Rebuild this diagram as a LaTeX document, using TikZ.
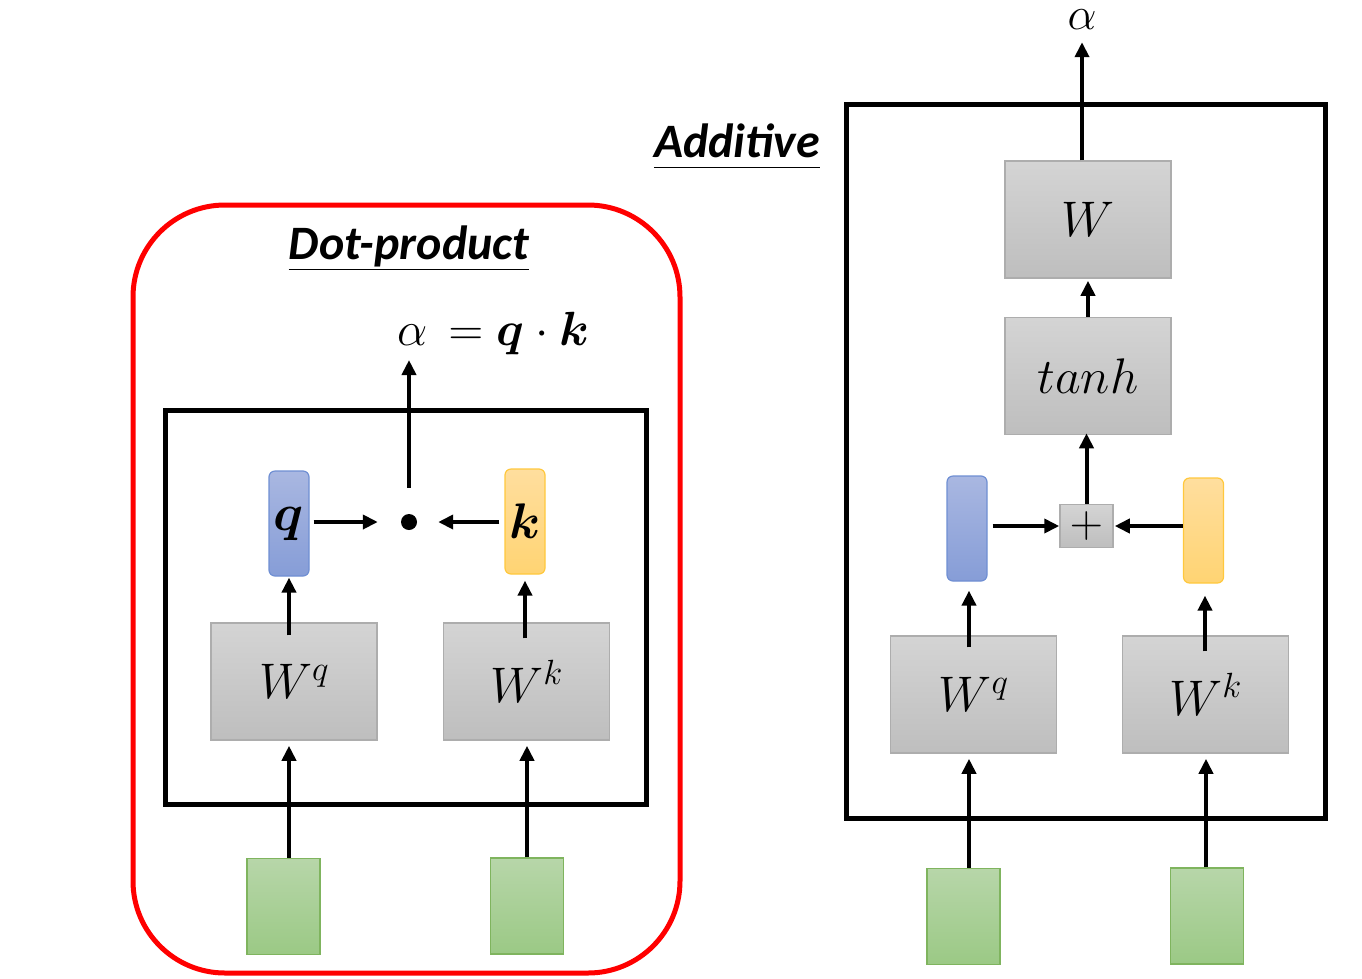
\RequirePackage{fix-cm}
\documentclass[tikz,border=0pt]{standalone}
\usepackage{amsmath}
\usepackage{fontspec}
\newfontfamily\calib{Carlito}
\usetikzlibrary{arrows.meta,calc}
\definecolor{gtop}{HTML}{D4D4D4}
\definecolor{gbot}{HTML}{BEBEBE}
\definecolor{gbrd}{HTML}{ADADAD}
\definecolor{btop}{HTML}{A9B7E1}
\definecolor{bbot}{HTML}{869DD7}
\definecolor{bbrd}{HTML}{6F8FD3}
\definecolor{otop}{HTML}{FFDE9E}
\definecolor{obot}{HTML}{FFD473}
\definecolor{obrd}{HTML}{FFC83D}
\definecolor{ntop}{HTML}{B7D6A9}
\definecolor{nbot}{HTML}{9BC985}
\definecolor{nbrd}{HTML}{7FB45E}
\definecolor{redf}{HTML}{FF0000}
\tikzset{
  wbox/.style={draw=gbrd, line width=1.5pt, top color=gtop, bottom color=gbot,
    minimum width=166pt, minimum height=117pt, inner sep=0pt,
    font=\fontsize{50}{58}\selectfont},
  qbar/.style={draw=bbrd, line width=1.2pt, top color=btop, bottom color=bbot,
    rounded corners=6pt, minimum width=40pt, minimum height=105pt, inner sep=0pt},
  kbar/.style={draw=obrd, line width=1.2pt, top color=otop, bottom color=obot,
    rounded corners=6pt, minimum width=40pt, minimum height=105pt, inner sep=0pt},
  inbox/.style={draw=nbrd, line width=1.2pt, top color=ntop, bottom color=nbot,
    minimum width=73pt, minimum height=96pt, inner sep=0pt},
  plusbox/.style={draw=gbrd, line width=1.5pt, top color=gtop, bottom color=gbot,
    minimum width=53pt, minimum height=43pt, inner sep=0pt,
    font=\fontsize{46}{50}\selectfont},
  ttl/.style={inner sep=0pt, font=\fontsize{48}{56}\selectfont\calib\bfseries\itshape},
  arr/.style={line width=4pt, -{Triangle[length=15pt,width=14pt]}},
  frame/.style={line width=5pt},
}
\begin{document}
\begin{tikzpicture}[x=1pt,y=-1pt]
\useasboundingbox (0,0) rectangle (1362,978);

% frames
\draw[redf, line width=5pt, rounded corners=92pt] (133,205) rectangle (680,973);
\draw[frame] (165,410) rectangle (646,804);
\draw[frame] (846,104) rectangle (1325,818);

% titles
\node[ttl, anchor=base] (t1) at (409,259) {Dot-product};
\draw[line width=1.5pt] ([yshift=-10.5pt]t1.base west) -- ([yshift=-10.5pt]t1.base east);
\node[ttl, anchor=base] (t2) at (737,157) {Additive};
\draw[line width=1.5pt] ([yshift=-10.5pt]t2.base west) -- ([yshift=-10.5pt]t2.base east);

% ---------- left: dot-product ----------
\node[wbox] (Wq1) at (294,681.5) {$W^q$};
\node[wbox] (Wk1) at (526.5,681.5) {$W^k$};
\node[qbar, font=\fontsize{52}{58}\selectfont] (q1) at (289,523.5) {$\boldsymbol{q}$};
\node[kbar, font=\fontsize{50}{58}\selectfont] (k1) at (525,521.5) {$\boldsymbol{k}$};
\node[circle, fill=black, minimum size=16pt, inner sep=0pt] (dot1) at (409,522) {};
\node[inbox] (g1) at (283.5,906.5) {};
\node[inbox] (g2) at (527,906) {};
\node[anchor=base west, inner sep=0pt, font=\fontsize{48}{54}\selectfont] (eq1) at (397,345)
  {$\alpha\,=\boldsymbol{q}\cdot\boldsymbol{k}$};
\coordinate (a1tip) at (409,360);

\draw[arr, shorten <=26pt] (dot1) -- (a1tip);
\draw[arr, shorten <=4pt, shorten >=23pt] (q1.east |- dot1.west) -- (dot1.west);
\draw[arr, shorten <=5pt, shorten >=21pt] (k1.west |- dot1.east) -- (dot1.east);
\draw[arr, shorten <=-13pt, shorten >=1pt] (Wq1.north -| q1.south) -- (q1.south);
\draw[arr, shorten <=-16pt, shorten >=6pt] (Wk1.north -| k1.south) -- (k1.south);
\draw[arr, shorten >=5pt] ([xshift=5.5pt]g1.north) -- ([xshift=5.5pt]g1.north |- Wq1.south);
\draw[arr, shorten >=5pt] (g2.north) -- (g2.north |- Wk1.south);

% ---------- right: additive ----------
\node[wbox] (W2) at (1088,219.5) {$W$};
\node[wbox] (tanh2) at (1088,376) {$tanh$};
\node[plusbox] (plus2) at (1086.5,526) {$+$};
\node[qbar] (q2) at (967,528.5) {};
\node[kbar] (k2) at (1203.5,530.5) {};
\node[wbox] (Wq2) at (973.5,694.5) {$W^q$};
\node[wbox] (Wk2) at (1205.5,694.5) {$W^k$};
\node[inbox] (g3) at (963.5,916.5) {};
\node[inbox] (g4) at (1207,916) {};
\node[inner sep=0pt, anchor=base, font=\fontsize{46}{50}\selectfont] (al2) at (1082,29) {$\alpha$};

\draw[arr, shorten >=13pt] (al2 |- W2.north) -- (al2.south);
\draw[arr, shorten >=2pt] (tanh2.north) -- (W2.south);
\draw[arr, shorten >=-2pt] (plus2.north) -- (plus2.north |- tanh2.south);
\draw[arr, shorten <=5pt] (q2.east |- plus2.west) -- (plus2.west);
\draw[arr, shorten >=1pt] (k2.west |- plus2.east) -- (plus2.east);
\draw[arr, shorten <=-12pt, shorten >=9pt] ([xshift=2pt]Wq2.north -| q2.south) -- ([xshift=2pt]q2.south);
\draw[arr, shorten <=-16pt, shorten >=12pt] ([xshift=1.5pt]Wk2.north -| k2.south) -- ([xshift=1.5pt]k2.south);
\draw[arr, shorten >=5pt] ([xshift=5.5pt]g3.north) -- ([xshift=5.5pt]g3.north |- Wq2.south);
\draw[arr, shorten >=5pt] ([xshift=-1pt]g4.north) -- ([xshift=-1pt]g4.north |- Wk2.south);
\end{tikzpicture}
\end{document}
